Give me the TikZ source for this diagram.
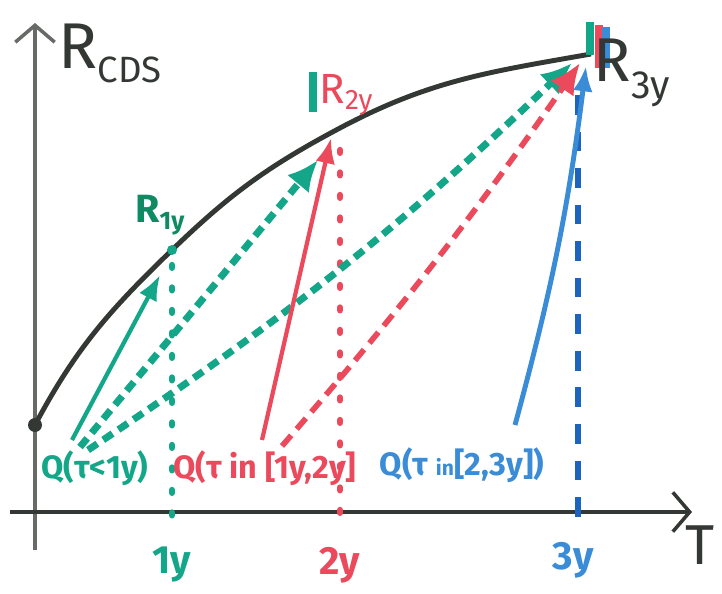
\documentclass[tikz,border=0pt]{standalone}
\usepackage{fontspec}
\setmainfont{Fira Sans}
\usepackage{xcolor}
\usepackage{tikz}
\usetikzlibrary{arrows.meta,positioning}

\definecolor{penblack}{RGB}{52,56,52}
\definecolor{penteal}{RGB}{20,166,136}
\definecolor{pengreen}{RGB}{16,138,98}
\definecolor{penred}{RGB}{234,74,92}
\definecolor{penblue}{RGB}{58,140,214}
\definecolor{pendeep}{RGB}{28,100,190}

\begin{document}
\begin{tikzpicture}[x=0.025cm,y=0.025cm,
    axisline/.style={line width=3pt, -{Straight Barb[length=12pt,width=28pt,line width=2.5pt]}},
    solidarr/.style={line width=3pt, -{Latex[length=18pt,width=14pt]}},
    dasharr/.style={line width=5pt, dash pattern=on 8pt off 5pt, -{Latex[length=22pt,width=20pt]}},
    dotline/.style={line width=4.5pt, line cap=round, dash pattern=on 2pt off 14pt},
    qlabel/.style={font=\bfseries\fontsize{23}{26}\selectfont, inner sep=0pt},
    ticklabel/.style={font=\bfseries\fontsize{28}{32}\selectfont, inner sep=0pt},
    rlabel/.style={font=\fontsize{30}{34}\selectfont, inner sep=0pt}]
    \useasboundingbox (0,0) rectangle (722,593);

    \coordinate (ybot) at (35,43);
    \coordinate (ytop) at (35,570);
    \coordinate (xleft) at (10,81);
    \coordinate (xright) at (692,81);
    \draw[axisline, penblack!75] (ybot) -- (ytop);
    \draw[axisline, penblack] (xleft) -- (xright);
    \node[penblack, font=\fontsize{40}{44}\selectfont, inner sep=0pt] (taxis) at (700,48) {T};
    \node[penblack, inner sep=0pt] (rcds) at (110,540)
        {{\fontsize{46}{50}\selectfont R}\raisebox{-10pt}{\fontsize{26}{28}\selectfont CDS}};

    \coordinate (R0) at (35,168);
    \coordinate (R1) at (172,343);
    \coordinate (R2) at (340,465);
    \coordinate (R3) at (591,539);
    \draw[penblack, line width=3.5pt] (R0) to[out=62,in=224] (R1)
        to[out=44,in=208] (R2) to[out=28,in=190] (R3);
    \fill[penblack] (R0) circle (7);
    \fill[penteal] (R1) circle (5);

    \draw[dotline, penteal] (172,328) -- (172,66);
    \draw[dotline, penred] (340,443) -- (340,66);
    \draw[pendeep, line width=4.5pt, dash pattern=on 14pt off 12pt] (578,498) -- (578,66);
    \node[ticklabel, penteal] (t1) at (172,28) {1y};
    \node[ticklabel, penred] (t2) at (340,28) {2y};
    \node[ticklabel, penblue] (t3) at (573,33) {3y};

    \draw[penteal, line width=5pt] (313,521) -- (313,481);
    \draw[penteal, line width=5pt] (590,571) -- (590,538);
    \draw[penred, line width=5pt] (599,568) -- (599,525);
    \draw[penblue, line width=5pt] (606,566) -- (606,525);
    \node[rlabel, pengreen, font=\bfseries\fontsize{28}{30}\selectfont] (r1y) at (160,378)
        {R\raisebox{-5pt}{\fontsize{18}{20}\selectfont 1y}};
    \node[rlabel, penred] (r2y) at (346,498)
        {R\raisebox{-4pt}{\fontsize{20}{22}\selectfont 2y}};
    \node[rlabel, penblack, font=\fontsize{44}{48}\selectfont] (r3y) at (632,520)
        {R\raisebox{-12pt}{\fontsize{28}{30}\selectfont 3y}};

    \node[qlabel, penteal] (qteal) at (95,125) {Q(τ<1y)};
    \node[qlabel, penred] (qred) at (265,125) {Q(τ in [1y,2y]};
    \node[qlabel, penblue] (qblue) at (462,128)
        {Q(τ {\fontsize{15}{16}\selectfont in}[2,3y])};

    \coordinate (ta) at (72,153);
    \coordinate (tb) at (80,146);
    \coordinate (tc) at (88,143);
    \coordinate (ra) at (262,153);
    \coordinate (rb) at (282,147);
    \coordinate (ba) at (515,168);
    \coordinate (t1end) at (160,318);
    \coordinate (t2end) at (318,433);
    \coordinate (t3end) at (572,530);
    \coordinate (r2end) at (331,455);
    \coordinate (r3end) at (580,530);
    \coordinate (b3end) at (586,527);
    \draw[solidarr, penteal] (ta) -- (t1end);
    \draw[dasharr, penteal] (tb) -- (t2end);
    \draw[dasharr, penteal] (tc) to[bend right=5] (t3end);
    \draw[solidarr, penred] (ra) -- (r2end);
    \draw[dasharr, penred, line width=4pt, dash pattern=on 10pt off 6pt] (rb) to[bend right=3] (r3end);
    \draw[solidarr, penblue, line width=3.5pt] (ba) to[bend right=4] (b3end);
\end{tikzpicture}
\end{document}
